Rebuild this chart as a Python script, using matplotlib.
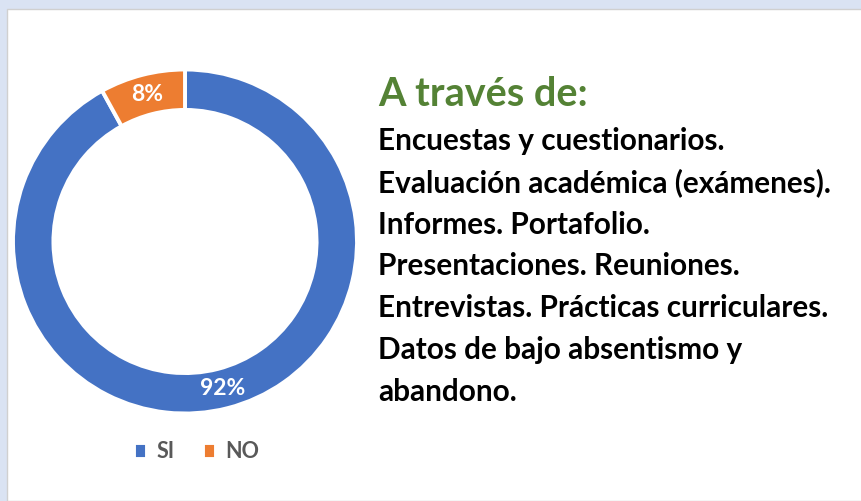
import matplotlib
matplotlib.use("Agg")
import matplotlib.pyplot as plt
from matplotlib.patches import Rectangle

plt.rcParams['font.family'] = ['Lato', 'DejaVu Sans']

# datos
etiquetas = ['SI', 'NO']
valores = [92, 8]
colores = ['#4472C4', '#ED7D31']
titulo = 'A través de:'
lineas = [
    'Encuestas y cuestionarios.',
    'Evaluación académica (exámenes).',
    'Informes. Portafolio.',
    'Presentaciones. Reuniones.',
    'Entrevistas. Prácticas curriculares.',
    'Datos de bajo absentismo y',
    'abandono.',
]

W, H = 861, 501
fig = plt.figure(figsize=(W / 100, H / 100), dpi=100)
fig.patch.set_facecolor('#DAE3F3')


def fx(x):
    return x / W


def fy(y):
    return 1 - y / H


# panel blanco
fig.patches.append(Rectangle((fx(7), 0), 1, fy(9), transform=fig.transFigure,
                             facecolor='white', edgecolor='#D0D0D0', linewidth=1.0,
                             zorder=-5))

# anillo
cx, cy, r = 185, 241.5, 172
ax = fig.add_axes([fx(cx - r), fy(cy + r), 2 * r / W, 2 * r / H])
ax.set_zorder(2)
ancho = 0.235
wedges, textos, autotextos = ax.pie(
    valores, colors=colores, startangle=90, counterclock=False,
    radius=1, autopct='%1.0f%%', pctdistance=1 - ancho / 2,
    wedgeprops=dict(width=ancho, edgecolor='white', linewidth=2.8),
    textprops=dict(color='white', fontsize=16.5, fontweight='bold'))
ax.set_xlim(-1, 1)
ax.set_ylim(-1, 1)
ax.set_aspect('equal')
ax.axis('off')
for w in wedges:
    w.set_clip_on(False)

# leyenda
leg = fig.legend(wedges, etiquetas, loc='center', bbox_to_anchor=(fx(197), fy(452)),
                 ncol=2, frameon=False, handlelength=0.6, handleheight=0.7,
                 handletextpad=0.45, columnspacing=1.3,
                 prop=dict(size=15.5, weight='bold'))
for t in leg.get_texts():
    t.set_color('#595959')

# texto
fig.text(fx(378), fy(106), titulo, fontsize=28.5, fontweight='bold',
         color='#548235', va='baseline', ha='left')
y0, paso = 150, 41.8
for i, linea in enumerate(lineas):
    fig.text(fx(378), fy(y0 + i * paso), linea, fontsize=21.4, fontweight='bold',
             color='black', va='baseline', ha='left')

fig.savefig('out.png', dpi=100, facecolor=fig.get_facecolor())
